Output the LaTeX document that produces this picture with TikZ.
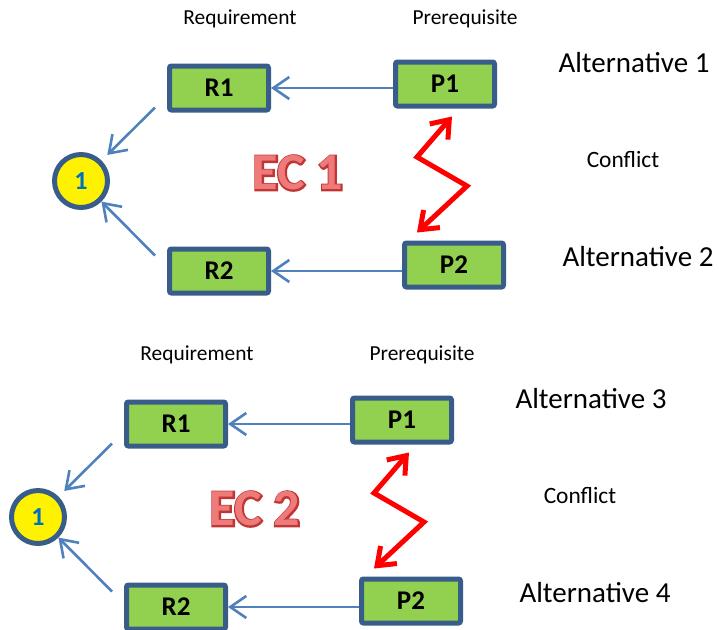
\documentclass[tikz,border=0pt]{standalone}
\usepackage{fontspec}
\setmainfont{Carlito}
\newfontface\ecthick{Carlito Bold}[FakeBold=6]
\usetikzlibrary{arrows.meta}
\definecolor{boxgreen}{HTML}{92D050}
\definecolor{boxblue}{HTML}{385D8A}
\definecolor{linkblue}{HTML}{4F81BD}
\definecolor{numblue}{HTML}{0070C0}
\definecolor{ecred}{HTML}{EE7A7A}
\definecolor{ecdark}{HTML}{C03535}
\tikzset{
	item/.style={draw=boxblue,line width=2.5pt,fill=boxgreen,minimum width=49.5pt,minimum height=22pt,rounded corners=1pt,font=\fontsize{13.5}{16}\selectfont\bfseries},
	goal/.style={circle,draw=boxblue,line width=2.5pt,fill=yellow,minimum size=26.5pt,inner sep=0pt,text=numblue,font=\fontsize{13}{15}\selectfont\bfseries},
	link/.style={linkblue,line width=1.3pt,-{Straight Barb[length=8pt,width=11pt]}},
	conflict/.style={red,line width=2.5pt,{Straight Barb[length=8pt,width=12pt]}-{Straight Barb[length=8pt,width=12pt]}},
	head/.style={font=\fontsize{10.7}{13}\selectfont},
	alt/.style={font=\fontsize{14.5}{17}\selectfont},
	note/.style={font=\fontsize{11.7}{14}\selectfont},
	ecback/.style={text=ecdark,font=\fontsize{26}{30}\ecthick},
	ecfront/.style={text=ecred,font=\fontsize{26}{30}\selectfont\bfseries}
}
\begin{document}
\begin{tikzpicture}[x=0.5pt,y=-0.5pt]
	\useasboundingbox (0,0) rectangle (719,629);
	% first conflict
	\begin{scope}
		\node[head] (qa) at (240,19) {Requirement};
		\node[head] (sa) at (465,19) {Prerequisite};
		\node[item] (ra1) at (219,88) {R1};
		\node[item] (ra2) at (219,271) {R2};
		\node[item] (pa1) at (445,84) {P1};
		\node[item] (pa2) at (454,265) {P2};
		\node[goal] (ga) at (81,181) {1};
		\node[alt] (aa1) at (634,63) {Alternative 1};
		\node[alt] (aa2) at (638,257) {Alternative 2};
		\node[note] (ca) at (623,160) {Conflict};
		\node[ecback] (eca0) at (298,173) {EC 1};
		\node[ecfront] (eca) at (298,173) {EC 1};
		\draw[link] (pa1.west |- ra1.east) -- (ra1.east);
		\draw[link] (pa2.west |- ra2.east) -- (ra2.east);
		\draw[link,shorten >=4pt] ([shift={(-12,-5)}]ra1.south west) -- (ga);
		\draw[link] ([shift={(-12,9)}]ra2.north west) -- (ga);
		\draw[conflict] ([shift={(7,8)}]pa1.south) -- (417,157) -- (467,186) -- ([shift={(-37,-8)}]pa2.north);
	\end{scope}
	% second conflict
	\begin{scope}[shift={(-43,336)}]
		\node[head] (qb) at (240,19) {Requirement};
		\node[head] (sb) at (465,19) {Prerequisite};
		\node[item] (rb1) at (219,88) {R1};
		\node[item] (rb2) at (219,271) {R2};
		\node[item] (pb1) at (445,84) {P1};
		\node[item] (pb2) at (454,265) {P2};
		\node[goal] (gb) at (81,181) {1};
		\node[alt] (ab1) at (634,63) {Alternative 3};
		\node[alt] (ab2) at (638,257) {Alternative 4};
		\node[note] (cb) at (623,160) {Conflict};
		\node[ecback] (ecb0) at (298,173) {EC 2};
		\node[ecfront] (ecb) at (298,173) {EC 2};
		\draw[link] (pb1.west |- rb1.east) -- (rb1.east);
		\draw[link] (pb2.west |- rb2.east) -- (rb2.east);
		\draw[link,shorten >=4pt] ([shift={(-12,-5)}]rb1.south west) -- (gb);
		\draw[link] ([shift={(-12,9)}]rb2.north west) -- (gb);
		\draw[conflict] ([shift={(7,8)}]pb1.south) -- (417,157) -- (467,186) -- ([shift={(-37,-8)}]pb2.north);
	\end{scope}
\end{tikzpicture}
\end{document}
